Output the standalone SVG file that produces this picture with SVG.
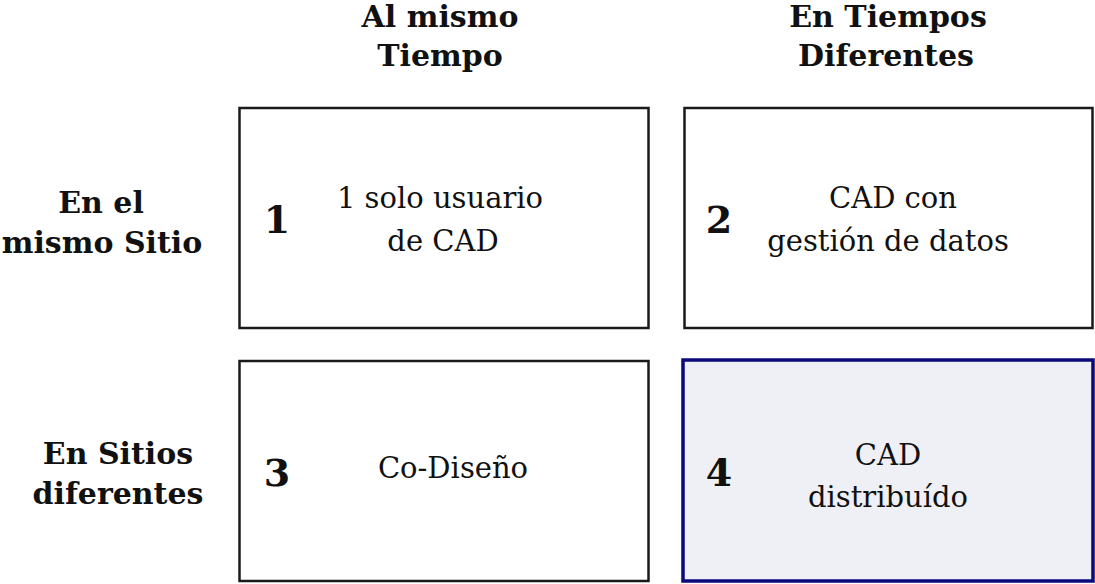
<svg xmlns="http://www.w3.org/2000/svg" width="1095" height="584" viewBox="0 0 1095 584">
<style>
.box{fill:#ffffff;stroke:#1a1a1a;stroke-width:2.5}
.hl{fill:#eef0f6;stroke:#0a0a7a;stroke-width:3.5}
.hd{font-family:"DejaVu Serif",serif;font-weight:bold;font-size:30px;fill:#111;text-anchor:middle}
.num{font-family:"DejaVu Serif",serif;font-weight:bold;font-size:38px;fill:#111;text-anchor:middle}
.tx{font-family:"DejaVu Serif",serif;font-size:29px;fill:#111;text-anchor:middle}
</style>
<rect width="1095" height="584" fill="#ffffff"/>
<g id="col-headers">
<text class="hd" x="440" y="27">Al mismo</text>
<text class="hd" x="440" y="66">Tiempo</text>
<text class="hd" x="888" y="27">En Tiempos</text>
<text class="hd" x="886" y="66">Diferentes</text>
</g>
<g id="row-headers">
<text class="hd" x="101" y="213">En el</text>
<text class="hd" x="102" y="253">mismo Sitio</text>
<text class="hd" x="118" y="464">En Sitios</text>
<text class="hd" x="118" y="504">diferentes</text>
</g>
<g id="node1">
<rect class="box" x="239.5" y="108" width="409" height="220"/>
<text class="num" x="277" y="233">1</text>
<text class="tx" x="440" y="208">1 solo usuario</text>
<text class="tx" x="443" y="251">de CAD</text>
</g>
<g id="node2">
<rect class="box" x="684.5" y="108" width="408" height="220"/>
<text class="num" x="719" y="233">2</text>
<text class="tx" x="893" y="208">CAD con</text>
<text class="tx" x="888" y="251">gestión de datos</text>
</g>
<g id="node3">
<rect class="box" x="239.5" y="361" width="409" height="220"/>
<text class="num" x="277" y="486">3</text>
<text class="tx" x="453" y="478">Co-Diseño</text>
</g>
<g id="node4">
<rect class="hl" x="683" y="360" width="410" height="221"/>
<text class="num" x="719" y="486">4</text>
<text class="tx" x="888" y="465">CAD</text>
<text class="tx" x="888" y="507">distribuído</text>
</g>
<g id="connectors"></g>
</svg>
